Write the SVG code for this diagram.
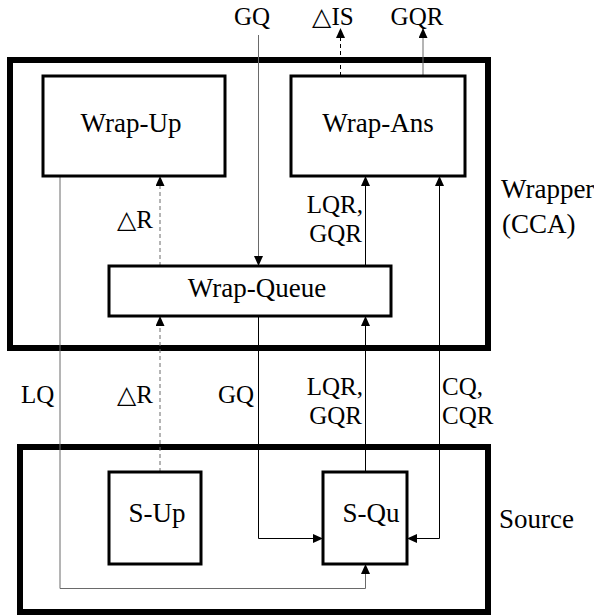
<svg xmlns="http://www.w3.org/2000/svg" width="594" height="615" viewBox="0 0 594 615" font-family="Liberation Serif">
<defs>
<marker id="a" viewBox="0 0 10 9" refX="10" refY="4.5" markerWidth="10" markerHeight="9" markerUnits="userSpaceOnUse" orient="auto-start-reverse">
<path d="M0,0 L10,4.5 L0,9 z" fill="#000"/>
</marker>
</defs>
<g id="wrapper">
<rect x="10" y="60" width="478" height="288" fill="none" stroke="#000" stroke-width="6"/>
<text x="501" y="198" font-family="Liberation Serif" font-size="27" style="font-family:'Liberation Serif',serif !important">Wrapper</text>
<text x="502" y="233" font-family="Liberation Serif" font-size="27" style="font-family:'Liberation Serif',serif !important">(CCA)</text>
</g>
<g id="source">
<rect x="20" y="447" width="468" height="165" fill="none" stroke="#000" stroke-width="6"/>
<text x="499" y="528" font-family="Liberation Serif" font-size="27" style="font-family:'Liberation Serif',serif !important">Source</text>
</g>
<g id="connectors">
<g fill="none" stroke="#000" stroke-width="1">
<path d="M258.5,35 V266" stroke="#6a6a6a" marker-end="url(#a)"/>
<path d="M340.5,76 V28" stroke-dasharray="4,3" marker-end="url(#a)"/>
<path d="M423,76 V28" stroke="#6a6a6a" marker-end="url(#a)"/>
<path d="M160,266 V176" stroke="#6a6a6a" stroke-dasharray="4,3" marker-end="url(#a)"/>
<path d="M160,472 V316" stroke="#6a6a6a" stroke-dasharray="4,3" marker-end="url(#a)"/>
<path d="M60,176 V588.5 H365.5 V564" stroke="#6a6a6a" marker-end="url(#a)"/>
<path d="M258.5,316 V538.5 H323" marker-end="url(#a)"/>
<path d="M365.5,472 V316" marker-end="url(#a)"/>
<path d="M365.5,266 V176" marker-end="url(#a)"/>
<path d="M407,538.5 H439.5 V176" marker-start="url(#a)" marker-end="url(#a)"/>
</g>
<text x="252" y="25" text-anchor="middle" font-family="Liberation Serif" font-size="25" style="font-family:'Liberation Serif',serif !important">GQ</text>
<text x="333" y="25" text-anchor="middle" font-family="Liberation Serif" font-size="25" style="font-family:'Liberation Serif',serif !important">△IS</text>
<text x="417" y="25" text-anchor="middle" font-family="Liberation Serif" font-size="25" style="font-family:'Liberation Serif',serif !important">GQR</text>
<text x="153" y="228" text-anchor="end" font-family="Liberation Serif" font-size="25" style="font-family:'Liberation Serif',serif !important">△R</text>
<text x="363" y="213" text-anchor="end" font-family="Liberation Serif" font-size="25" style="font-family:'Liberation Serif',serif !important">LQR,</text>
<text x="362" y="242" text-anchor="end" font-family="Liberation Serif" font-size="25" style="font-family:'Liberation Serif',serif !important">GQR</text>
<text x="153" y="403" text-anchor="end" font-family="Liberation Serif" font-size="25" style="font-family:'Liberation Serif',serif !important">△R</text>
<text x="363" y="395" text-anchor="end" font-family="Liberation Serif" font-size="25" style="font-family:'Liberation Serif',serif !important">LQR,</text>
<text x="362" y="424" text-anchor="end" font-family="Liberation Serif" font-size="25" style="font-family:'Liberation Serif',serif !important">GQR</text>
<text x="21" y="403" font-family="Liberation Serif" font-size="25" style="font-family:'Liberation Serif',serif !important">LQ</text>
<text x="218" y="403" font-family="Liberation Serif" font-size="25" style="font-family:'Liberation Serif',serif !important">GQ</text>
<text x="442" y="395" font-family="Liberation Serif" font-size="25" style="font-family:'Liberation Serif',serif !important">CQ,</text>
<text x="442" y="424" font-family="Liberation Serif" font-size="25" style="font-family:'Liberation Serif',serif !important">CQR</text>
</g>
<g id="wrap-up">
<rect x="43" y="76" width="182" height="100" fill="#fff" stroke="#000" stroke-width="3"/>
<text x="131" y="132" text-anchor="middle" font-family="Liberation Serif" font-size="27" style="font-family:'Liberation Serif',serif !important">Wrap-Up</text>
</g>
<g id="wrap-ans">
<rect x="291" y="76" width="174" height="100" fill="#fff" stroke="#000" stroke-width="3"/>
<text x="378" y="132" text-anchor="middle" font-family="Liberation Serif" font-size="27" style="font-family:'Liberation Serif',serif !important">Wrap-Ans</text>
</g>
<g id="wrap-queue">
<rect x="109" y="266" width="282" height="50" fill="#fff" stroke="#000" stroke-width="3"/>
<text x="257" y="297" text-anchor="middle" font-family="Liberation Serif" font-size="27" style="font-family:'Liberation Serif',serif !important">Wrap-Queue</text>
</g>
<g id="s-up">
<rect x="109" y="472" width="92" height="92" fill="#fff" stroke="#000" stroke-width="3"/>
<text x="157" y="522" text-anchor="middle" font-family="Liberation Serif" font-size="27" style="font-family:'Liberation Serif',serif !important">S-Up</text>
</g>
<g id="s-qu">
<rect x="323" y="472" width="84" height="92" fill="#fff" stroke="#000" stroke-width="3"/>
<text x="371" y="522" text-anchor="middle" font-family="Liberation Serif" font-size="27" style="font-family:'Liberation Serif',serif !important">S-Qu</text>
</g>
</svg>
